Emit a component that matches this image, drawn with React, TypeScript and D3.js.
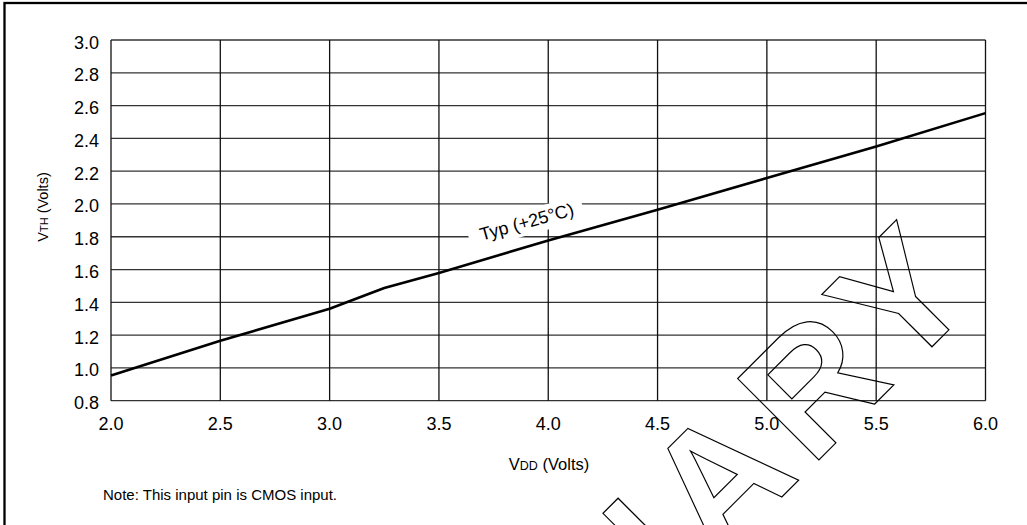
import React from "react";
import * as d3 from "d3";

const vdd = [2.0, 2.5, 3.0, 3.25, 3.5, 4.0, 4.5, 5.0, 5.5, 6.0];
const vth = [0.954, 1.165, 1.361, 1.487, 1.579, 1.777, 1.965, 2.158, 2.35, 2.554];
const xTicks = [2.0, 2.5, 3.0, 3.5, 4.0, 4.5, 5.0, 5.5, 6.0];
const yTicks = [0.8, 1.0, 1.2, 1.4, 1.6, 1.8, 2.0, 2.2, 2.4, 2.6, 2.8, 3.0];
const curveLabel = "Typ (+25°C)";
const noteText = "Note: This input pin is CMOS input.";
const watermark = "PRELIMINARY";

const W = 1027;
const H = 525;
const FONT = "'Liberation Sans', Arial, Helvetica, sans-serif";

export default function App() {
  const x = d3.scaleLinear().domain([2.0, 6.0]).range([111, 985.5]);
  const y = d3.scaleLinear().domain([0.8, 3.0]).range([400.7, 40]);
  const line = d3
    .line<number>()
    .x((_, i) => x(vdd[i]))
    .y((d) => y(d))
    .curve(d3.curveLinear);

  const lx = 528.3;
  const ly = 227.8;
  const ang = -15.5;

  return (
    <svg
      width={W}
      height={H}
      style={{ position: "absolute", left: 0, top: 0, background: "#fff" }}
      fontFamily={FONT}
    >
      <rect x={0} y={0} width={W} height={H} fill="#fff" />
      <rect x={4.5} y={3} width={W + 40} height={H + 40} fill="none" stroke="#000" strokeWidth={2.3} />

      <g stroke="#333" strokeWidth={1.3}>
        {yTicks.map((t) => (
          <line key={"h" + t} x1={x(2.0)} x2={x(6.0)} y1={y(t)} y2={y(t)} />
        ))}
        {xTicks.map((t) => (
          <line key={"v" + t} x1={x(t)} x2={x(t)} y1={y(0.8)} y2={y(3.0)} stroke="#111" />
        ))}
      </g>

      <g fontSize={18} fill="#000" textAnchor="end">
        {yTicks.map((t) => (
          <text key={"yl" + t} x={99} y={y(t) + 8.5}>
            {t.toFixed(1)}
          </text>
        ))}
      </g>
      <g fontSize={18} fill="#000" textAnchor="middle">
        {xTicks.map((t) => (
          <text key={"xl" + t} x={x(t)} y={430}>
            {t.toFixed(1)}
          </text>
        ))}
      </g>

      <text transform="translate(47.5,207) rotate(-90)" textAnchor="middle" fontSize={14.5} fill="#000">
        V<tspan fontSize={11}>TH</tspan> (Volts)
      </text>
      <text x={549} y={470} textAnchor="middle" fontSize={16.5} fill="#000">
        V<tspan fontSize={12.5}>DD</tspan> (Volts)
      </text>

      <g transform={`translate(${lx},${ly}) rotate(${ang})`}>
        <rect x={-60} y={-18} width={118} height={25} fill="#fff" />
        <text x={0} y={0} textAnchor="middle" fontSize={18} fill="#000">
          {curveLabel}
        </text>
      </g>

      <path d={line(vth) || ""} fill="none" stroke="#000" strokeWidth={2.6} strokeLinejoin="round" />

      <text x={103} y={500} fontSize={15} fill="#000">
        {noteText}
      </text>

      <text
        transform="translate(989,289.7) rotate(-45)"
        textAnchor="end"
        fontSize={167}
        fontWeight="bold"
        letterSpacing={13}
        fill="none"
        stroke="#000"
        strokeWidth={1.2}
      >
        {watermark}
      </text>
    </svg>
  );
}
